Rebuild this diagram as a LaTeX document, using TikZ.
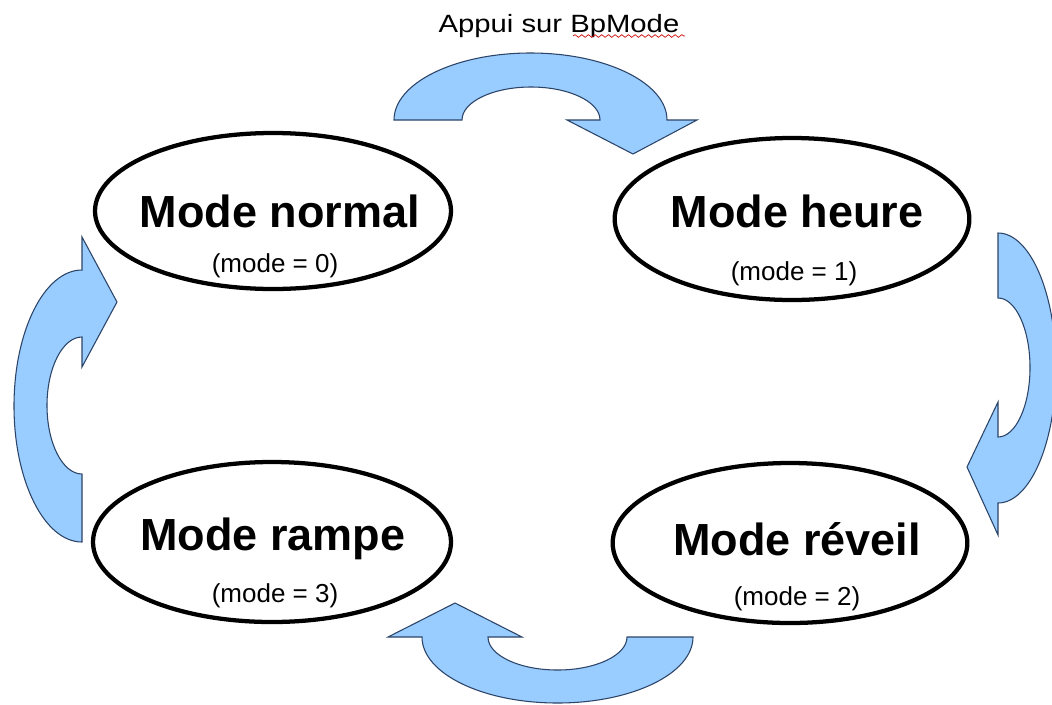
\documentclass[tikz,border=0pt]{standalone}
\usepackage{fontspec}
\setmainfont{Liberation Sans}
\usetikzlibrary{shapes.geometric,decorations.pathmorphing}
\definecolor{arrowfill}{HTML}{99CCFF}
\definecolor{arrowline}{HTML}{2B4468}
\tikzset{
  state/.style={draw=black, line width=3.2pt, ellipse, inner sep=0pt, minimum width=266pt, minimum height=120pt},
  title/.style={font=\fontsize{33.75}{36}\selectfont\bfseries, anchor=base, inner sep=0pt},
  sub/.style={font=\fontsize{19.5}{22}\selectfont, anchor=base, inner sep=0pt},
  blockarrow/.style={fill=arrowfill, draw=arrowline, line width=0.8pt, line join=miter},
}
\begin{document}
\begin{tikzpicture}[x=0.75pt,y=0.75pt]
\useasboundingbox (0,0) rectangle (1052,-704);
\fill[white] (0,0) rectangle (1052,-704);

% states
\node[state, minimum width=267pt, minimum height=117pt] (s0) at (273,-211) {};
\node[state, minimum height=121.5pt] (s1) at (792,-219) {};
\node[state] (s2) at (790,-543) {};
\node[state, minimum width=268.5pt] (s3) at (272,-542) {};

\node[title] (t0) at (280,-227) {Mode normal};
\node[sub] (u0) at (275,-272) {(mode = 0)};
\node[title] (t1) at (797,-227) {Mode heure};
\node[sub] (u1) at (794,-280) {(mode = 1)};
\node[title] (t2) at (797,-555) {Mode réveil};
\node[sub] (u2) at (797,-605) {(mode = 2)};
\node[title] (t3) at (273,-550) {Mode rampe};
\node[sub] (u3) at (275,-602) {(mode = 3)};

% top label
\node[font=\fontsize{18.75}{20}\selectfont, anchor=base, inner sep=0pt] (lab) at (559,-32) {\scalebox{1.17}[1]{Appui sur BpMode}};
\draw[red!80!black, line width=0.5pt, decorate, decoration={snake, amplitude=1pt, segment length=5pt}] (573,-36) -- (685,-36);

% top arrow (normal -> heure)
\draw[blockarrow] (394,-120) arc[start angle=180, end angle=0, x radius=136.5, y radius=67]
  -- (697,-120) -- (633,-154) -- (567,-120) -- (600,-120)
  arc[start angle=0, end angle=180, x radius=69, y radius=33] -- cycle;

% right arrow (heure -> reveil)
\draw[blockarrow] (998,-233) arc[start angle=90, end angle=-90, x radius=58, y radius=135]
  -- (998,-535) -- (967,-467) -- (998,-402) -- (998,-437)
  arc[start angle=-90, end angle=90, x radius=32, y radius=69.5] -- cycle;

% bottom arrow (reveil -> rampe)
\draw[blockarrow] (693,-637) arc[start angle=0, end angle=-180, x radius=135.5, y radius=66]
  -- (388,-637) -- (455,-603) -- (522,-637) -- (488,-637)
  arc[start angle=180, end angle=360, x radius=69.5, y radius=33] -- cycle;

% left arrow (rampe -> normal)
\draw[blockarrow] (82,-542) arc[start angle=-90, end angle=-270, x radius=68, y radius=136]
  -- (82,-237) -- (117,-302) -- (82,-367) -- (82,-337)
  arc[start angle=90, end angle=270, x radius=35, y radius=68.5] -- cycle;
\end{tikzpicture}
\end{document}
